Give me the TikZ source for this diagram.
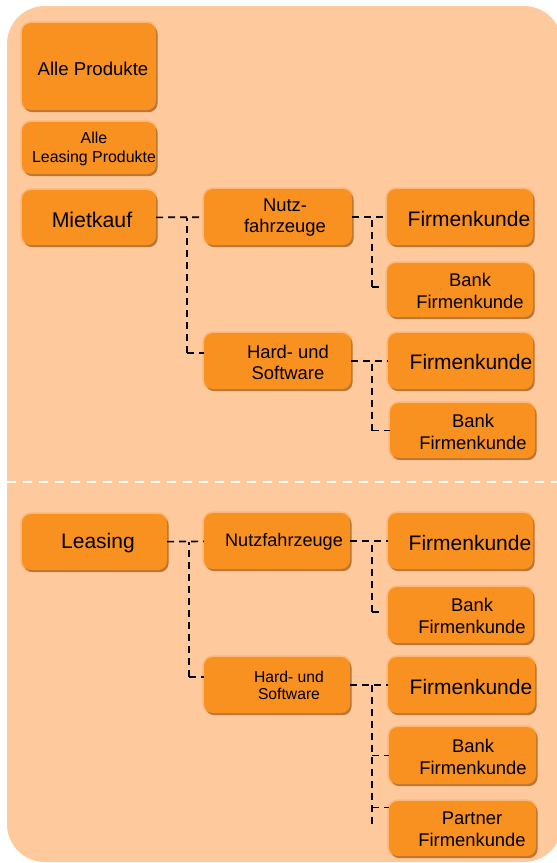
\documentclass[tikz,border=0pt]{standalone}
\usepackage{fontspec}
\setmainfont{Liberation Sans}
\usetikzlibrary{shadows}
\definecolor{bgc}{RGB}{254,201,156}
\definecolor{boxc}{RGB}{249,145,32}
\definecolor{shc}{RGB}{186,118,52}
\definecolor{haloc}{RGB}{252,184,118}
\tikzset{
  pbox/.style={rectangle, rounded corners=9pt, fill=boxc, inner sep=0pt,
    preaction={draw=haloc, line width=3.2pt},
    drop shadow={shadow xshift=1.6pt, shadow yshift=-2.2pt, fill=shc, opacity=1}},
  conn/.style={draw=black, line width=1.6pt, dash pattern=on 7pt off 5pt},
  sepline/.style={draw=white, line width=1.8pt, dash pattern=on 9pt off 7pt},
  lbl/.style={align=center, inner sep=0pt, text=black},
}
\newcommand\pbox[5]{\node[pbox, minimum width={(#4-#2)*1pt}, minimum height={(#5-#3)*1pt}] (#1) at ({(#2+#4)/2},{(#3+#5)/2}) {};}
\newcommand\fs[2]{\fontsize{#1}{#2}\selectfont}
\begin{document}
\begin{tikzpicture}[x=1pt,y=-1pt]
\useasboundingbox (0,0) rectangle (557,863);
\fill[bgc, rounded corners=38pt] (7,6) rectangle (562,862);
\draw[sepline] (7,482) -- (557,482);

% boxes
\pbox{ap}{22}{23}{156}{110}
\pbox{alp}{22}{122}{156}{174}
\pbox{mk}{22}{190}{156}{245}
\pbox{nf1}{204}{189}{352}{245}
\pbox{fk1}{387}{189}{533}{245}
\pbox{bf1}{387}{263}{533}{317}
\pbox{hs1}{204}{333}{351}{389}
\pbox{fk2}{388}{333}{533}{389}
\pbox{bf2}{390}{403}{535}{458}
\pbox{ls}{22}{514}{167}{570}
\pbox{nf2}{204}{513}{350}{569}
\pbox{fk3}{388}{513}{533}{569}
\pbox{bf3}{388}{587}{533}{643}
\pbox{hs2}{204}{657}{350}{713}
\pbox{fk4}{388}{657}{535}{713}
\pbox{bf4}{389}{727}{536}{784}
\pbox{pf}{389}{801}{536}{856}

% texts
\node[lbl, font=\fs{18.6}{21}] (tap) at (93,69) {Alle Produkte};
\node[lbl, font=\fs{15.9}{19}] (talp) at (94,148.5) {Alle\\Leasing Produkte};
\node[lbl, font=\fs{21.3}{24}] (tmk) at (92,220) {Mietkauf};
\node[lbl, font=\fs{18.4}{21}] (tnf1) at (285,217.5) {Nutz-\\fahrzeuge};
\node[lbl, font=\fs{21}{24}] (tfk1) at (469,219) {Firmenkunde};
\node[lbl, font=\fs{18.4}{22}] (tbf1) at (470,291) {Bank\\Firmenkunde};
\node[lbl, font=\fs{18.4}{21}] (ths1) at (288,362.5) {Hard- und\\Software};
\node[lbl, font=\fs{21}{24}] (tfk2) at (471,362) {Firmenkunde};
\node[lbl, font=\fs{18.4}{22}] (tbf2) at (473,431.5) {Bank\\Firmenkunde};
\node[lbl, font=\fs{21}{24}] (tls) at (98,543) {Leasing};
\node[lbl, font=\fs{18.1}{21}] (tnf2) at (284,542) {Nutzfahrzeuge};
\node[lbl, font=\fs{21}{24}] (tfk3) at (470,543) {Firmenkunde};
\node[lbl, font=\fs{18.4}{22}] (tbf3) at (472,615.5) {Bank\\Firmenkunde};
\node[lbl, font=\fs{15.7}{17.5}] (ths2) at (289,685.5) {Hard- und\\Software};
\node[lbl, font=\fs{21}{24}] (tfk4) at (471,687) {Firmenkunde};
\node[lbl, font=\fs{18.4}{22}] (tbf4) at (473,756.5) {Bank\\Firmenkunde};
\node[lbl, font=\fs{18.4}{22}] (tpf) at (472,829) {Partner\\Firmenkunde};

% junctions, corners and free ends
\coordinate (j1) at (187,218);
\coordinate (c1) at (187,353);
\coordinate (j2) at (372,217);
\coordinate (e1) at (381,287);
\coordinate (j3) at (372,361);
\coordinate (j4) at (189,542);
\coordinate (c4) at (189,677);
\coordinate (j5) at (372,541);
\coordinate (e2) at (381,612);
\coordinate (j6) at (372,685);
\coordinate (e3) at (372,827);
\coordinate (pw) at ([yshift=21pt]pf.west);

% connectors
\draw[conn] (mk) -- (nf1);
\draw[conn] (c1) -- (j1);
\draw[conn] (c1) -- ([yshift=8pt]hs1.west);
\draw[conn] (nf1) -- (fk1);
\draw[conn] (j2 |- e1) -- (j2);
\draw[conn] (j2 |- e1) -- (e1);
\draw[conn] (hs1) -- (fk2);
\draw[conn] (j3 |- bf2.west) -- (j3);
\draw[conn] (j3 |- bf2.west) -- (bf2.west);
\draw[conn] (ls) -- (nf2);
\draw[conn] (c4) -- (j4);
\draw[conn] (c4) -- ([yshift=8pt]hs2.west);
\draw[conn] (nf2) -- (fk3);
\draw[conn] (j5 |- e2) -- (j5);
\draw[conn] (j5 |- e2) -- (e2);
\draw[conn] (hs2) -- (fk4);
\draw[conn] (j6) -- (e3);
\draw[conn] (bf4.west -| j6) -- (bf4.west);
\draw[conn] (pw -| j6) -- (pw);
\end{tikzpicture}
\end{document}
